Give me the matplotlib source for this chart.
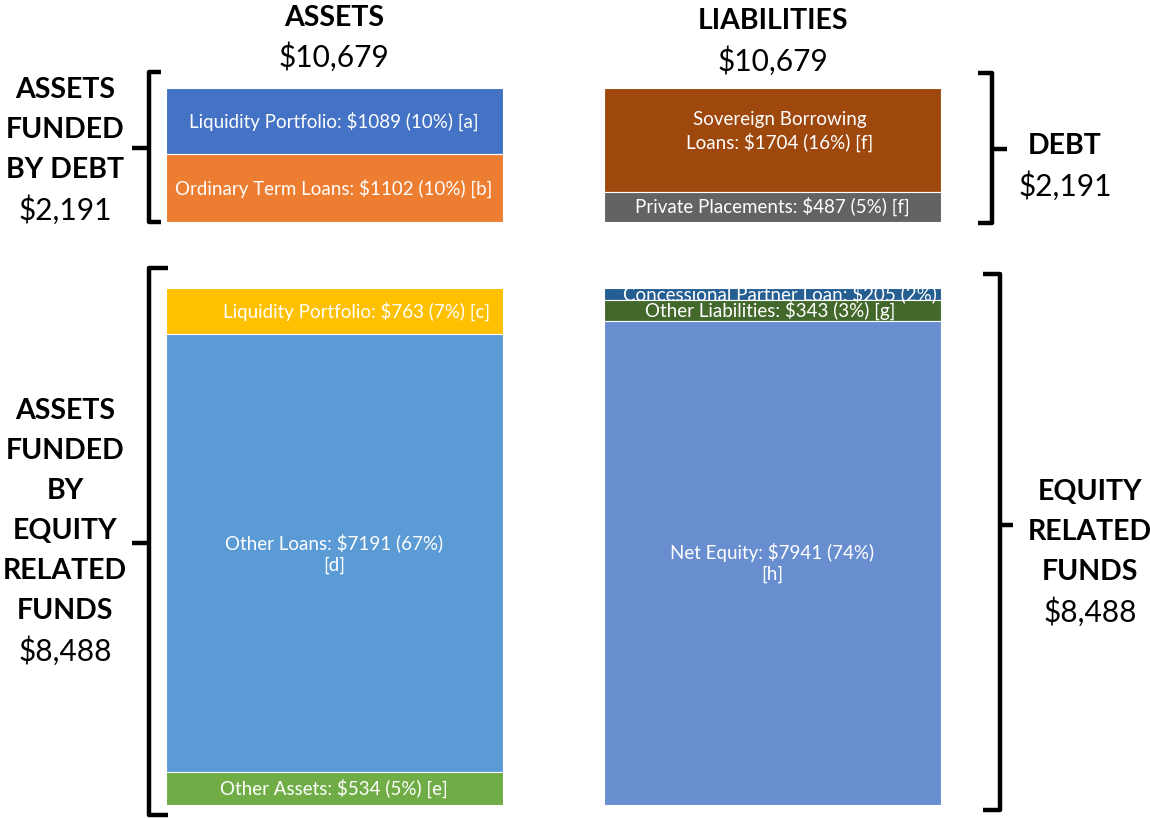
import matplotlib.pyplot as plt

plt.rcParams['font.family'] = ['Lato', 'DejaVu Sans']

# ---------------- data ----------------
columns = ["ASSETS", "LIABILITIES"]
column_totals = [10679, 10679]

asset_debt_labels = ["Liquidity Portfolio: $1089 (10%) [a]",
                     "Ordinary Term Loans: $1102 (10%) [b]"]
asset_debt_values = [1089, 1102]
asset_debt_colors = ["#4472C4", "#ED7D31"]

asset_eq_labels = ["Liquidity Portfolio: $763 (7%) [c]",
                   "Other Loans: $7191 (67%)\n[d]",
                   "Other Assets: $534 (5%) [e]"]
asset_eq_values = [763, 7191, 534]
asset_eq_colors = ["#FFC000", "#5B9BD5", "#70AD47"]

liab_debt_labels = ["Sovereign Borrowing\nLoans: $1704 (16%) [f]",
                    "Private Placements: $487 (5%) [f]"]
liab_debt_values = [1704, 487]
liab_debt_colors = ["#9E480E", "#636363"]

liab_eq_labels = ["Concessional Partner Loan: $205 (2%)",
                  "Other Liabilities: $343 (3%) [g]",
                  "Net Equity: $7941 (74%)\n[h]"]
liab_eq_values = [205, 343, 7941]
liab_eq_colors = ["#255E91", "#43682B", "#698ED0"]

left_group_titles = ["ASSETS\nFUNDED\nBY DEBT", "ASSETS\nFUNDED\nBY\nEQUITY\nRELATED\nFUNDS"]
left_group_totals = [2191, 8488]
right_group_titles = ["DEBT", "EQUITY\nRELATED\nFUNDS"]
right_group_totals = [2191, 8488]

GAP = 1085  # visual gap between debt block and equity block (in $ units)

# ---------------- layout ----------------
W, H = 1150, 818
fig = plt.figure(figsize=(W / 100, H / 100), dpi=100)
ax = fig.add_axes([0, 0, 1, 1])
top_px, bot_px = 88, 805
total_span = sum(asset_debt_values) + GAP + sum(asset_eq_values)
scale = (bot_px - top_px) / total_span  # px per $
ax.set_xlim(0, W)
ax.set_ylim((H - top_px) / scale, -top_px / scale)
ax.axis('off')

col_x = [334, 772.5]
col_w = 337
LABEL_FS = 13.5


def stack(x, values, colors, labels, start, xoffs, yoffs_px):
    bottom = start
    for v, c, lab, dx, dy in zip(values, colors, labels, xoffs, yoffs_px):
        ax.bar(x, v, bottom=bottom, width=col_w, color=c,
               edgecolor='white', linewidth=0.8)
        ax.text(x + dx, bottom + v / 2 + dy / scale, lab, color='white',
                ha='center', va='center', fontsize=LABEL_FS, linespacing=1.3)
        bottom += v
    return bottom


eq_start = sum(asset_debt_values) + GAP
stack(col_x[0], asset_debt_values, asset_debt_colors, asset_debt_labels, 0,
      [0, 0], [0, 0])
stack(col_x[0], asset_eq_values, asset_eq_colors, asset_eq_labels, eq_start,
      [23, 0, 0], [0, 0, 0])
stack(col_x[1], liab_debt_values, liab_debt_colors, liab_debt_labels, 0,
      [7, 0], [-8, 0])
stack(col_x[1], liab_eq_values, liab_eq_colors, liab_eq_labels, eq_start,
      [7, -2, 0], [0, 0, 0])

# ---------------- decorations (pixel overlay) ----------------
ov = fig.add_axes([0, 0, 1, 1])
ov.set_xlim(0, W)
ov.set_ylim(H, 0)
ov.axis('off')
ov.patch.set_alpha(0)

TITLE_FS = 20.5
VALUE_FS = 21.5

# column headers
ov.text(col_x[0], 18, columns[0], ha='center', va='center', fontsize=TITLE_FS, fontweight='bold')
ov.text(col_x[0], 57, f"${column_totals[0]:,}", ha='center', va='center', fontsize=VALUE_FS)
ov.text(col_x[1], 21, columns[1], ha='center', va='center', fontsize=TITLE_FS, fontweight='bold')
ov.text(col_x[1], 61, f"${column_totals[1]:,}", ha='center', va='center', fontsize=VALUE_FS)


def bracket(xv, y0, y1, arm_x, nub_y, nub_x):
    ov.plot([arm_x, xv, xv, arm_x], [y0, y0, y1, y1], color='black', lw=3.2,
            solid_joinstyle='round', solid_capstyle='butt')
    ov.plot([xv, nub_x], [nub_y, nub_y], color='black', lw=3.2,
            solid_capstyle='butt')


bracket(149, 72, 222, 161, 148, 132)
bracket(149, 268, 815, 168, 543, 132)
bracket(992, 73, 223, 978, 149, 1007)
bracket(1000, 274, 810, 983, 525, 1013)


def side_label(x, y_first, title, total, step=40):
    lines = title.split("\n")
    for i, ln in enumerate(lines):
        ov.text(x, y_first + i * step, ln, ha='center', va='center',
                fontsize=TITLE_FS, fontweight='bold')
    ov.text(x, y_first + len(lines) * step, f"${total:,}", ha='center',
            va='center', fontsize=VALUE_FS)


side_label(65, 90, left_group_titles[0], left_group_totals[0])
side_label(65, 411, left_group_titles[1], left_group_totals[1])
side_label(1065, 146, right_group_titles[0], right_group_totals[0])
side_label(1090, 492, right_group_titles[1], right_group_totals[1])

fig.savefig("out.png", dpi=100)
